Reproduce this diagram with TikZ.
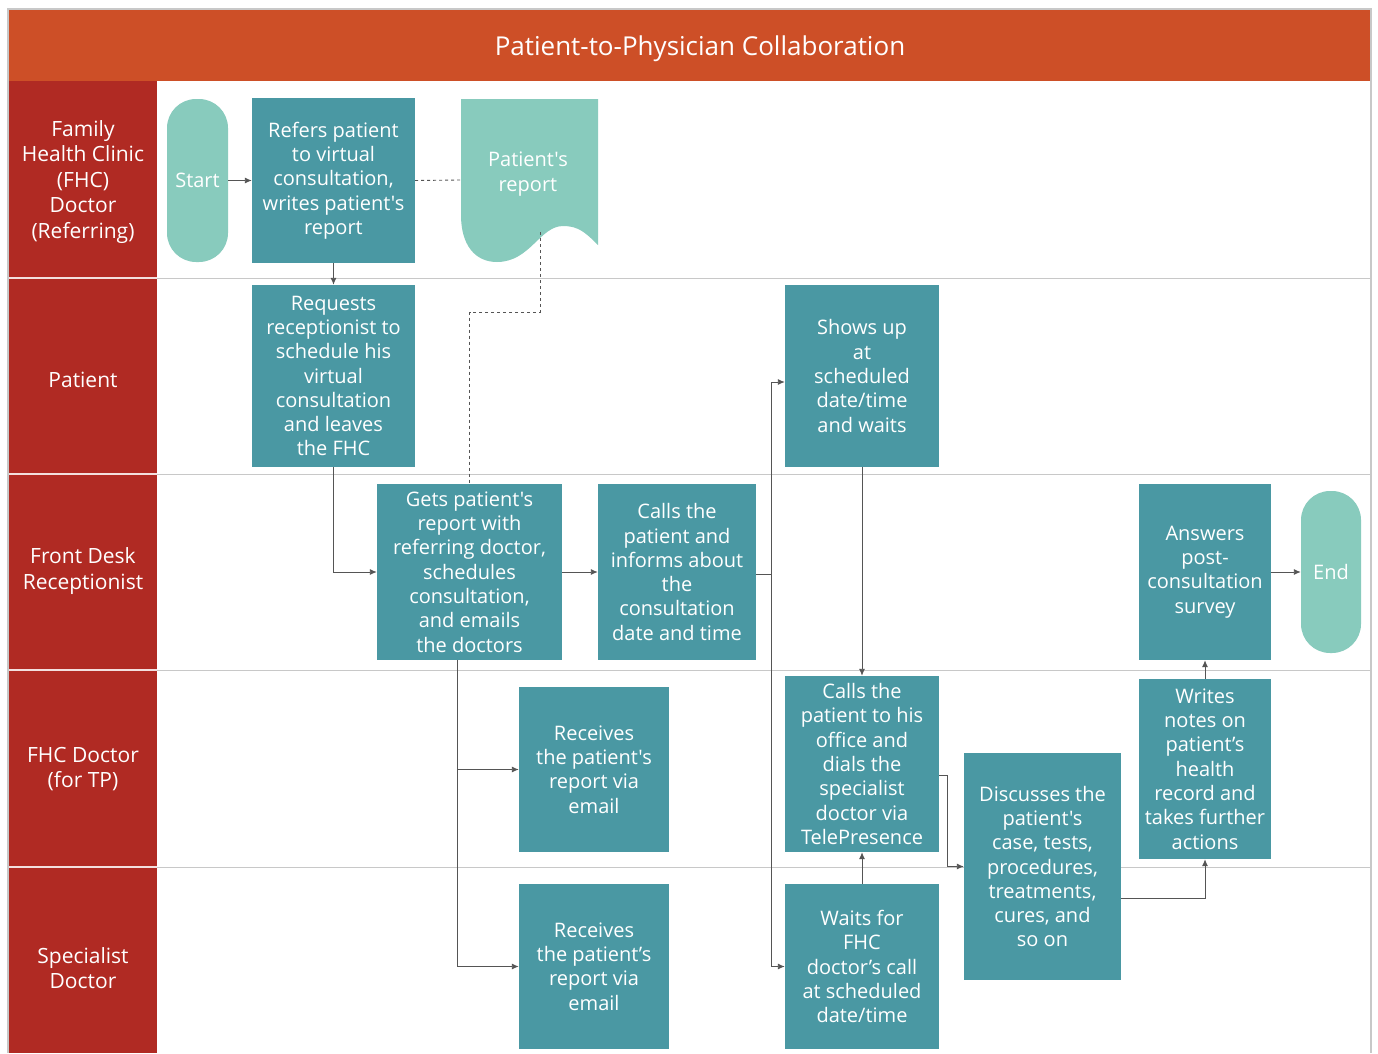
\documentclass[tikz,border=0pt]{standalone}
\usepackage{fontspec}
\setmainfont{Open Sans}[Ligatures=TeXOff]
\usetikzlibrary{arrows.meta,calc}
\definecolor{hdr}{HTML}{CD4F27}
\definecolor{lane}{HTML}{B02A23}
\definecolor{proc}{HTML}{4A98A3}
\definecolor{term}{HTML}{88CBBD}
\definecolor{sep}{HTML}{C8C8C8}
\definecolor{conn}{HTML}{555555}
\tikzset{
  procbox/.style={fill=proc, text=white, inner sep=0pt, align=center, font=\fontsize{20}{24.3}\selectfont},
  termbox/.style={fill=term, text=white, inner sep=0pt, align=center, rounded corners=29pt, font=\fontsize{20}{24.3}\selectfont},
  lanelabel/.style={text=white, align=center, font=\fontsize{21}{25.5}\selectfont},
  arrowline/.style={draw=conn, line width=0.9pt, -{Latex[length=7pt,width=6pt]}},
  plainline/.style={draw=conn, line width=0.9pt},
  dashline/.style={draw=conn, line width=0.9pt, dash pattern=on 3pt off 3pt},
}
\begin{document}
\begin{tikzpicture}[x=1pt,y=-1pt]
\useasboundingbox (0,0) rectangle (1378,1053);
\fill[white] (0,0) rectangle (1378,1053);
% header
\fill[hdr] (9,9) rectangle (1371,81);
\node[text=white, font=\fontsize{26}{30}\selectfont] (title) at (700,49) {Patient-to-Physician Collaboration};
% lane label column
\fill[lane] (9,81) rectangle (157,1053);
% separators
\foreach \yy in {278,474,670,867} {
  \draw[sep, line width=1pt] (157,\yy) -- (1371,\yy);
  \draw[white!85!lane, line width=1.5pt] (9,\yy) -- (157,\yy);
}
% outer border
\draw[sep, line width=1.5pt] (8,1053) -- (8,9) -- (1371,9) -- (1371,1053);
% lane labels
\node[lanelabel] (l1) at (83,182) {Family\\Health Clinic\\(FHC)\\Doctor\\(Referring)};
\node[lanelabel] (l2) at (83,380) {Patient};
\node[lanelabel] (l3) at (83,571) {Front Desk\\Receptionist};
\node[lanelabel] (l4) at (83,769) {FHC Doctor\\(for TP)};
\node[lanelabel] (l5) at (83,968) {Specialist\\Doctor};
% nodes
\node[termbox, minimum width=61, minimum height=163] (start) at (197.5,180.5) {Start};
\node[procbox, minimum width=163, minimum height=165] (refers) at (333.5,180.5) {Refers patient\\to virtual\\consultation,\\writes patient's\\report};
% document shape
\fill[term] (461,99) -- (598,99) -- (598,245)
  .. controls (585,232) and (578,226) .. (563,226)
  .. controls (540,226) and (530,262) .. (497,262)
  .. controls (475,262) and (461,245) .. (461,215) -- cycle;
\node[text=white, align=center, font=\fontsize{20}{24.3}\selectfont] (doc) at (528,174) {Patient's\\report};
\coordinate (docl) at (461,180);
\coordinate (docb) at (540,232);
\node[procbox, minimum width=163, minimum height=182] (requests) at (333.5,376) {Requests\\receptionist to\\schedule his\\virtual\\consultation\\and leaves\\the FHC};
\node[procbox, minimum width=185, minimum height=176] (gets) at (469.5,572) {Gets patient's\\report with\\referring doctor,\\schedules\\consultation,\\and emails\\the doctors};
\node[procbox, minimum width=158, minimum height=176] (calls) at (677,572) {Calls the\\patient and\\informs about\\the\\consultation\\date and time};
\node[procbox, minimum width=154, minimum height=182] (shows) at (862,376) {Shows up\\at\\scheduled\\date/time\\and waits};
\node[procbox, minimum width=154, minimum height=176] (callo) at (862,764) {Calls the\\patient to his\\office and\\dials the\\specialist\\doctor via\\TelePresence};
\node[procbox, minimum width=150, minimum height=165] (recv1) at (594,769.5) {Receives\\the patient's\\report via\\email};
\node[procbox, minimum width=150, minimum height=165] (recv2) at (594,966.5) {Receives\\the patient’s\\report via\\email};
\node[procbox, minimum width=154, minimum height=165] (waits) at (862,966.5) {Waits for\\FHC\\doctor’s call\\at scheduled\\date/time};
\node[procbox, minimum width=157, minimum height=227] (disc) at (1042.5,866.5) {Discusses the\\patient's\\case, tests,\\procedures,\\treatments,\\cures, and\\so on};
\node[procbox, minimum width=132, minimum height=180] (writes) at (1205,769) {Writes\\notes on\\patient’s\\health\\record and\\takes further\\actions};
\node[procbox, minimum width=132, minimum height=176] (answers) at (1205,572) {Answers\\post-\\consultation\\survey};
\node[termbox, minimum width=60, minimum height=162] (endn) at (1331,572) {End};
% connectors
\draw[arrowline] (start.east) -- (refers.west);
\draw[arrowline] (refers.south) -- (requests.north);
\draw[dashline] (refers.east) -- (docl);
\draw[dashline] (docb) -- ++(0,80) -| (gets.north);
\draw[arrowline] (requests.south) |- (gets.west);
\draw[arrowline] (gets.east) -- (calls.west);
\draw[plainline] ($(calls.east)+(0,2)$) -- ++(15,0) coordinate (cj);
\draw[arrowline] (cj) |- ($(shows.west)+(0,6)$);
\draw[arrowline] (cj) |- (waits.west);
\draw[arrowline] (shows.south) -- (callo.north);
\draw[arrowline] (waits.north) -- (callo.south);
\draw[arrowline] ($(gets.south)+(-12,0)$) |- (recv1.west);
\draw[arrowline] ($(gets.south)+(-12,0)$) |- (recv2.west);
\draw[arrowline] ($(callo.east)+(0,11)$) -- ++(8,0) |- (disc.west);
\draw[arrowline] ($(disc.east)+(0,32)$) -| (writes.south);
\draw[arrowline] (writes.north) -- (answers.south);
\draw[arrowline] (answers.east) -- (endn.west);
\end{tikzpicture}
\end{document}
